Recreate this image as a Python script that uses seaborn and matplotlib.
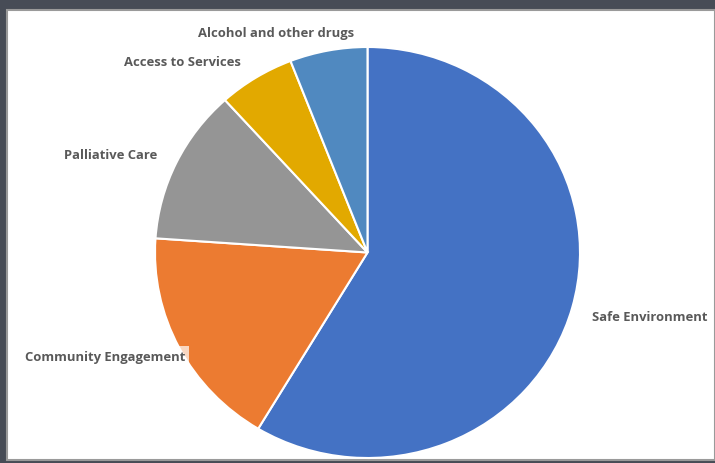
import matplotlib
matplotlib.use("Agg")
import matplotlib.pyplot as plt
import seaborn as sns
from matplotlib.patches import Rectangle

categories = ["Safe Environment", "Community Engagement", "Palliative Care",
              "Access to Services", "Alcohol and other drugs"]
values = [58.6, 17.5, 12.2, 5.8, 5.9]
colors = ["#4472c4", "#ec7b31", "#959595", "#e2a900", "#5089c0"]

sns.set_theme(style="white")
plt.rcParams['font.family'] = ['Open Sans', 'DejaVu Sans']
palette = sns.color_palette(colors)

W, H = 715, 463
fig = plt.figure(figsize=(W / 100, H / 100), dpi=100)
fig.patch.set_facecolor("#474c56")
fig.patches.append(Rectangle((7 / W, 3 / H), 1 - 7 / W, (H - 13) / H,
                             transform=fig.transFigure, facecolor="white",
                             edgecolor="#9a9a9a", linewidth=1.5, zorder=-10))

cx, cy, rx, ry = 367.5, 252.5, 212.5, 205.5
ax = fig.add_axes([(cx - rx) / W, (H - cy - ry) / H, 2 * rx / W, 2 * ry / H])
ax.set_zorder(5)
ax.set_facecolor("none")
ax.pie(values, colors=palette, startangle=90, counterclock=False, radius=1,
       wedgeprops=dict(edgecolor="white", linewidth=1.5))
ax.set_xlim(-1, 1)
ax.set_ylim(-1, 1)
ax.set_aspect("auto")
ax.axis("off")

label_pos = [(1.327, -0.314), (-1.235, -0.509), (-1.207, 0.474),
             (-0.873, 0.927), (-0.431, 1.068)]
for name, (x, y) in zip(categories, label_pos):
    kw = {}
    if name == "Community Engagement":
        kw["bbox"] = dict(facecolor="white", alpha=0.7, edgecolor="none", pad=3)
    ax.text(x, y, name, ha="center", va="center", fontsize=9.4,
            fontweight="bold", color="#595959", clip_on=False, **kw)

fig.savefig("out.png", dpi=100, facecolor=fig.get_facecolor())
